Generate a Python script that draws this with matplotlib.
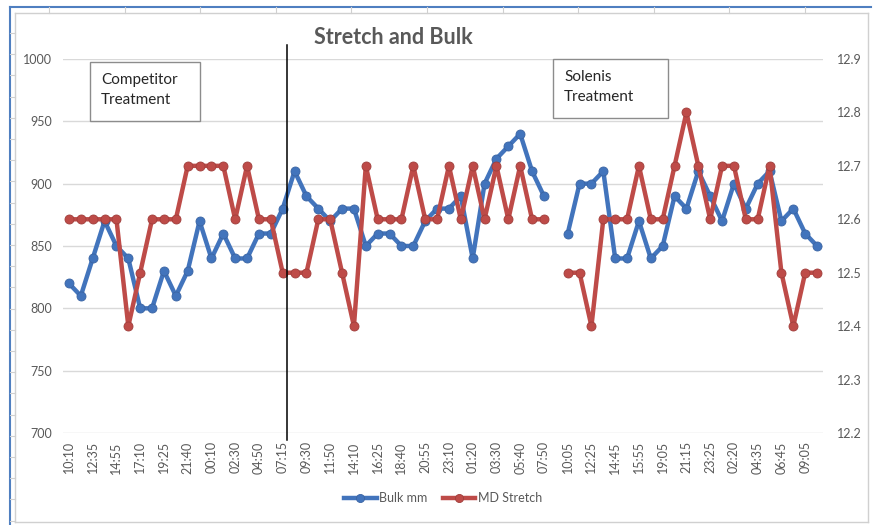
import numpy as np
import matplotlib
matplotlib.use("Agg")
import matplotlib.pyplot as plt
from matplotlib.lines import Line2D
from matplotlib.patches import Rectangle

plt.rcParams['font.family'] = ['Lato', 'DejaVu Sans']

# tick labels shown on the x axis (every second category)
tick_labels = ["10:10", "12:35", "14:55", "17:10", "19:25", "21:40", "00:10", "02:30",
               "04:50", "07:15", "09:30", "11:50", "14:10", "16:25", "18:40", "20:55",
               "23:10", "01:20", "03:30", "05:40", "07:50", "10:05", "12:25", "14:45",
               "15:55", "19:05", "21:15", "23:25", "02:20", "04:35", "06:45", "09:05"]

nan = np.nan
bulk_mm = [820, 810, 840, 870, 850, 840, 800, 800, 830, 810, 830, 870, 840, 860, 840, 840,
           860, 860, 880, 910, 890, 880, 870, 880, 880, 850, 860, 860, 850, 850, 870, 880,
           880, 890, 840, 900, 920, 930, 940, 910, 890, nan, 860, 900, 900, 910, 840, 840,
           870, 840, 850, 890, 880, 910, 890, 870, 900, 880, 900, 910, 870, 880, 860, 850]

md_stretch = [12.6, 12.6, 12.6, 12.6, 12.6, 12.4, 12.5, 12.6, 12.6, 12.6, 12.7, 12.7, 12.7, 12.7,
              12.6, 12.7, 12.6, 12.6, 12.5, 12.5, 12.5, 12.6, 12.6, 12.5, 12.4, 12.7, 12.6, 12.6,
              12.6, 12.7, 12.6, 12.6, 12.7, 12.6, 12.7, 12.6, 12.7, 12.6, 12.7, 12.6, 12.6, nan,
              12.5, 12.5, 12.4, 12.6, 12.6, 12.6, 12.7, 12.6, 12.6, 12.7, 12.8, 12.7, 12.6, 12.7,
              12.7, 12.6, 12.6, 12.7, 12.5, 12.4, 12.5, 12.5]

W, H = 873, 525
BLUE = "#4274BC"
RED = "#BE4B48"
GREY_TXT = "#595959"


def fx(px):
    return px / W


def fy(py):
    return 1 - py / H


fig = plt.figure(figsize=(W / 100, H / 100), dpi=100)

# spreadsheet frame behind the chart
for (x0, y0, x1, y1, c, lw) in [(10, 7, 871, 7, "#4F7FC0", 1.5), (10, 7, 10, 525, "#4F7FC0", 1.5),
                                (15, 13, 868, 13, "#D0D0D0", 1), (15, 13, 15, 522, "#D0D0D0", 1),
                                (15, 522, 868, 522, "#D0D0D0", 1), (868, 13, 868, 522, "#D0D0D0", 1)]:
    fig.add_artist(Line2D([fx(x0), fx(x1)], [fy(y0), fy(y1)], color=c, lw=lw))
for cx in np.arange(49, 871, 75.6):
    fig.add_artist(Line2D([fx(cx), fx(cx)], [fy(7), fy(13)], color="#D0D0D0", lw=0.8))
for ry in np.arange(33, 522, 21.2):
    fig.add_artist(Line2D([fx(10), fx(15)], [fy(ry), fy(ry)], color="#D0D0D0", lw=0.8))

ax = fig.add_axes([fx(63), fy(433), fx(823) - fx(63), fy(59) - fy(433)])
ax2 = ax.twinx()

x = np.arange(len(bulk_mm))
ax.plot(x, bulk_mm, color=BLUE, lw=3.2, marker="o", ms=6.5, mfc=BLUE, mec="#3A64A3", mew=0.6,
        zorder=3, label="Bulk mm")
ax2.plot(x, md_stretch, color=RED, lw=3.2, marker="o", ms=6.5, mfc=RED, mec="#A03E3B", mew=0.6,
         zorder=3, label="MD Stretch")

ax.set_xlim(-0.5, len(bulk_mm) - 0.5)
ax.set_ylim(700, 1000)
ax.set_yticks(np.arange(700, 1001, 50))
ax2.set_ylim(12.2, 12.9)
ax2.set_yticks(np.arange(12.2, 12.91, 0.1))
ax2.set_yticklabels([f"{v:.1f}" for v in np.arange(12.2, 12.91, 0.1)])
ax.set_xticks(x[::2])
ax.set_xticklabels(tick_labels, rotation=90)

ax.grid(axis="y", color="#D9D9D9", lw=1)
ax.set_axisbelow(True)
for a in (ax, ax2):
    for s in a.spines.values():
        s.set_visible(False)
ax.tick_params(axis="both", length=0, labelsize=9, labelcolor=GREY_TXT)
ax.tick_params(axis="y", pad=8)
ax.tick_params(axis="x", pad=6)
ax2.tick_params(axis="y", length=0, labelsize=9, labelcolor=GREY_TXT, pad=10)

# title and notes
fig.text(fx(393), fy(37), "Stretch and Bulk", ha="center", va="center", fontsize=15.5,
         fontweight="bold", color=GREY_TXT)

fig.add_artist(Rectangle((fx(90), fy(121)), fx(200) - fx(90), fy(62) - fy(121),
                         transform=fig.transFigure, fc="white", ec="#8C8C8C", lw=1, zorder=5))
fig.text(fx(101), fy(90), "Competitor\nTreatment", ha="left", va="center", fontsize=11,
         color="#262626", linespacing=1.6, zorder=6)
fig.add_artist(Rectangle((fx(553), fy(118)), fx(668) - fx(553), fy(59) - fy(118),
                         transform=fig.transFigure, fc="white", ec="#8C8C8C", lw=1, zorder=5))
fig.text(fx(564), fy(87), "Solenis\nTreatment", ha="left", va="center", fontsize=11,
         color="#262626", linespacing=1.6, zorder=6)

# divider between the two treatments
fig.add_artist(Line2D([fx(287), fx(287)], [fy(45), fy(440)], color="black", lw=1.1, zorder=6))

h1, l1 = ax.get_legend_handles_labels()
h2, l2 = ax2.get_legend_handles_labels()
fig.legend(h1 + h2, l1 + l2, loc="center", bbox_to_anchor=(fx(443), fy(498)), ncol=2,
           frameon=False, fontsize=9, labelcolor=GREY_TXT, handlelength=2.6,
           handletextpad=0.2, columnspacing=1.2, markerscale=0.9)

fig.savefig("out.png", dpi=100, facecolor="white")
